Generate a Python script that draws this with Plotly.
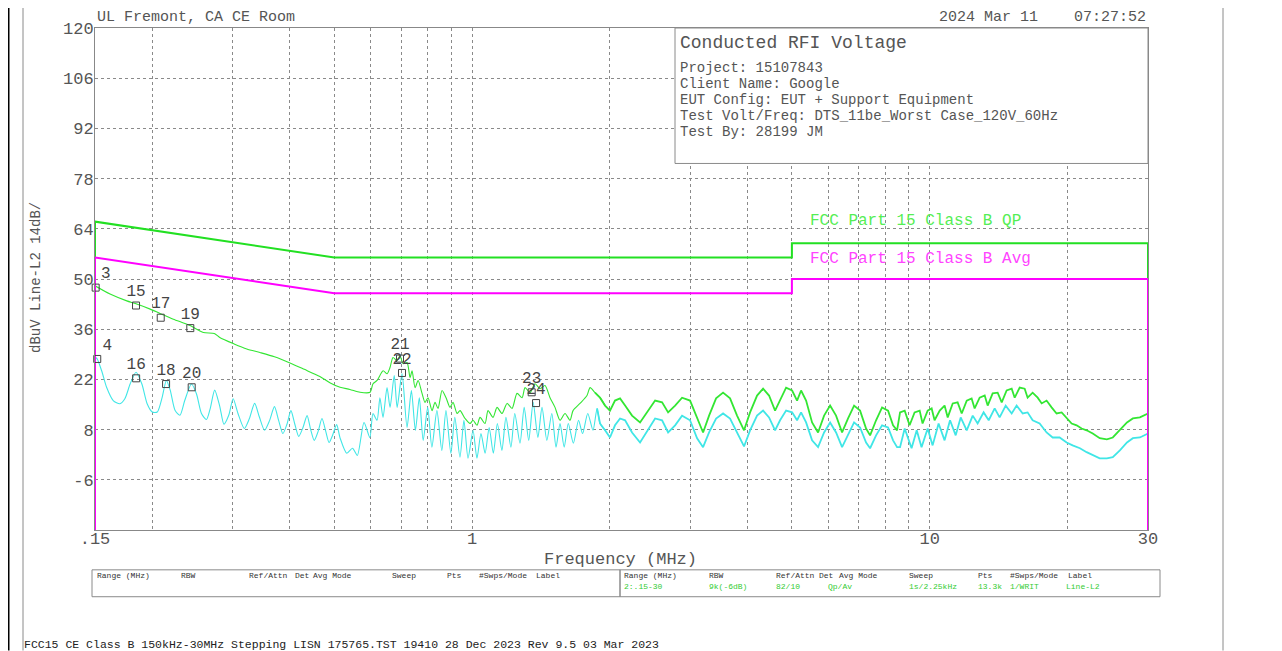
import plotly.graph_objects as go

# ---------------- data ----------------
qp_limit_freq = [0.15, 0.15, 0.5, 5.0, 5.0, 30.0, 30.0]
qp_limit_level = [-20, 66, 56, 56, 60, 60, -20]
avg_limit_freq = [0.15, 0.15, 0.5, 5.0, 5.0, 30.0, 30.0]
avg_limit_level = [-20, 56, 46, 46, 50, 50, -20]

# peak / QP scan trace (green), MHz and dBuV
green_freq = [0.150, 0.1618, 0.176, 0.1844, 0.198, 0.208, 0.2225, 0.242, 0.2587, 0.2734, 0.281, 0.302, 0.322,
              0.344, 0.370, 0.400, 0.430, 0.465, 0.490,
              0.5147, 0.541, 0.5692, 0.5985, 0.6076, 0.6201, 0.6392, 0.6522, 0.6618, 0.6719, 0.6855, 0.6960,
              0.7066, 0.7210, 0.7321, 0.7395, 0.7508, 0.7623, 0.7776, 0.7894, 0.8013, 0.8176, 0.8301, 0.8427,
              0.8599, 0.8774, 0.8953, 0.9089, 0.9273, 0.9414, 0.9654, 0.990, 1.005, 1.0255, 1.041, 1.0676,
              1.0838, 1.1115, 1.1340, 1.1629, 1.1926, 1.2231, 1.2541, 1.2862, 1.3057, 1.3388, 1.3729, 1.4079,
              1.4437, 1.4805, 1.5182, 1.557, 1.5966, 1.6372, 1.6622, 1.7217, 1.7833, 1.8114, 1.8567, 1.904,
              1.953, 2.002, 2.053, 2.106, 2.160, 2.237, 2.329, 2.424, 2.512, 2.602, 2.682, 2.778, 2.877, 2.995,
              3.103, 3.198, 3.296, 3.414, 3.536, 3.663, 3.794, 3.930, 4.051, 4.196, 4.325, 4.457, 4.594, 4.711,
              4.856, 5.005, 5.132, 5.236, 5.370, 5.534, 5.704, 5.879, 6.060, 6.244, 6.436, 6.633, 6.837, 7.046,
              7.262, 7.410, 7.637, 7.870, 8.112, 8.318, 8.487, 8.616,
              8.82, 9.04, 9.27, 9.51, 9.65, 9.90, 10.10, 10.25, 10.52, 10.78, 10.95, 11.23, 11.51, 11.75, 12.05,
              12.35, 12.54, 12.86, 13.19, 13.39, 13.73, 14.08, 14.37, 14.73, 15.11, 15.34, 15.73, 16.13, 16.37,
              16.79, 17.22, 17.57, 18.01, 18.47, 18.94, 19.43, 19.92, 20.43, 20.95, 21.48, 22.03, 22.72, 23.53,
              24.39, 25.13, 26.04, 26.99, 27.80, 28.80, 30.0]
green_level = [48.1, 45.8, 43.9, 43.1, 41.6, 40.4, 38.8, 37.0, 35.1, 34.8, 33.7, 31.9, 30.5,
               29.5, 28.3, 26.6, 24.8, 22.8, 21.0,
               19.8, 19.2, 18.4, 18.4, 20.8, 21.7, 24.4, 23.6, 25.3, 28.1, 27.2, 28.6,
               26.4, 26.7, 22.5, 24.4, 19.7, 21.7, 18.1, 15.6, 16.9, 13.3, 15.6, 13.9,
               18.9, 16.9, 14.2, 15.6, 12.5, 13.3, 11.1, 9.7, 10.6, 9.2, 11.4, 9.7,
               13.3, 11.4, 14.2, 12.5, 15.3, 13.9, 18.1, 16.9, 19.7, 18.3, 20.8, 19.4,
               20.3, 16.9, 14.2, 10.6, 12.5, 10.6, 13.3, 15.3, 17.5, 19.7, 18.3, 16.9,
               14.7, 13.3, 16.1, 16.7, 14.7, 11.9, 10.0, 13.3, 16.1, 15.6, 12.8, 14.7, 16.9, 16.1,
               11.1, 7.2, 11.9, 16.7, 18.3, 16.7, 11.9, 7.8, 12.8, 17.5, 19.4, 17.5, 13.3, 16.1,
               19.7, 18.9, 16.1, 18.9, 16.1, 10.0, 7.2, 11.9, 14.7, 11.9, 7.2, 11.1, 14.7, 13.3,
               8.3, 6.4, 10.6, 14.2, 13.3, 9.2, 7.8, 12.8,
               13.3, 9.2, 12.8, 13.3, 9.7, 13.3, 13.9, 10.6, 13.3, 14.7, 11.4, 15.3, 15.6, 12.5, 16.1,
               16.7, 13.9, 16.9, 17.5, 14.7, 18.1, 18.3, 15.6, 18.9, 19.4, 16.9, 19.7, 19.4, 16.9,
               18.3, 16.9, 15.3, 16.1, 14.2, 12.5, 12.8, 11.1, 9.7, 9.2, 8.3, 7.8, 6.9, 5.6,
               5.3, 5.8, 7.8, 10.0, 11.1, 11.4, 12.5]

# average scan trace (cyan), MHz and dBuV
cyan_freq = [0.1500, 0.1512, 0.1551, 0.1590, 0.1644, 0.1700, 0.1743, 0.1790, 0.1844, 0.1899, 0.1950, 0.2001,
             0.2052, 0.2103, 0.2148, 0.2190, 0.2245, 0.2300, 0.2356, 0.2437, 0.2499, 0.2563, 0.2628, 0.2680,
             0.2739, 0.2810, 0.2870, 0.2940, 0.3006, 0.3080, 0.3180, 0.3260, 0.3349, 0.3430, 0.3520, 0.3610,
             0.3700, 0.3780, 0.3860, 0.3940, 0.4020, 0.4100, 0.4180, 0.4270, 0.4360, 0.4440, 0.4520, 0.4610,
             0.4700, 0.4790, 0.4870, 0.4960, 0.5060,
             0.515, 0.5325, 0.548, 0.5615, 0.5807, 0.598, 0.6075, 0.620, 0.629, 0.639, 0.652, 0.662, 0.676,
             0.686, 0.703, 0.721, 0.737, 0.752, 0.767, 0.782, 0.800, 0.817, 0.838, 0.859, 0.877, 0.899, 0.917,
             0.941, 0.960, 0.980, 1.005, 1.025, 1.046, 1.068, 1.090, 1.113, 1.136, 1.162, 1.186, 1.216, 1.240,
             1.273, 1.300, 1.330, 1.360, 1.393, 1.422, 1.457, 1.494, 1.526, 1.557, 1.590, 1.623, 1.665, 1.709,
             1.744, 1.790, 1.838, 1.876, 1.904,
             1.953, 2.002, 2.053, 2.106, 2.160, 2.237, 2.329, 2.424, 2.512, 2.602, 2.682, 2.778, 2.877, 2.995,
             3.103, 3.198, 3.296, 3.414, 3.536, 3.663, 3.794, 3.930, 4.051, 4.196, 4.325, 4.457, 4.594, 4.711,
             4.856, 5.005, 5.132, 5.236, 5.370, 5.534, 5.704, 5.879, 6.060, 6.244, 6.436, 6.633, 6.837, 7.046,
             7.262, 7.410, 7.637, 7.870, 8.112, 8.318, 8.487, 8.616,
             8.82, 9.13, 9.37, 9.60, 9.90, 10.15, 10.46, 10.78, 11.08, 11.40, 11.69, 12.05, 12.42, 12.73,
             13.12, 13.46, 13.87, 14.22, 14.66, 15.11, 15.49, 15.97, 16.37, 16.79, 17.39, 18.01, 18.57, 19.23,
             19.92, 20.53, 21.30, 22.03, 22.72, 23.53, 24.39, 25.13, 26.04, 26.99, 27.80, 28.80, 30.0]
cyan_level = [27.0, 28.0, 24.4, 19.8, 16.1, 15.2, 16.6, 20.7, 24.0, 20.7, 15.2, 12.9,
              12.9, 17.0, 21.7, 19.0, 13.3, 12.0, 16.1, 20.7, 18.0, 12.5, 10.8, 14.0,
              19.0, 14.5, 9.5, 12.0, 16.6, 12.5, 8.3, 11.0, 15.3, 11.5, 7.8, 10.5,
              14.4, 10.5, 6.9, 9.5, 13.3, 9.5, 6.1, 8.5, 11.9, 8.0, 5.0, 7.5,
              11.1, 7.5, 4.4, 6.5, 9.4,
              5.6, 1.4, 2.8, 0.8, 10.0, 5.8, 12.5, 10.6, 16.9, 11.4, 19.7, 14.2, 23.1,
              14.2, 23.6, 8.6, 18.9, 7.8, 16.9, 5.0, 14.2, 3.1, 13.3, 2.2, 13.3, 1.4, 11.4,
              0.3, 10.6, 0.0, 7.8, 0.0, 6.9, 1.4, 8.6, 1.4, 9.7, 2.2, 11.4, 3.1, 12.5,
              4.2, 14.2, 5.0, 15.6, 5.8, 14.2, 5.0, 12.5, 3.1, 9.7, 3.1, 9.7, 4.2, 10.6,
              6.9, 12.5, 7.8, 13.9, 9.7,
              7.8, 5.8, 9.2, 11.1, 10.6, 7.2, 4.4, 7.8, 11.1, 10.6, 7.2, 9.2, 11.9, 10.6,
              5.6, 3.1, 7.2, 11.1, 12.5, 11.1, 7.2, 3.3, 7.8, 11.9, 13.3, 11.4, 7.8, 10.6,
              13.3, 12.8, 10.6, 12.8, 10.0, 5.0, 3.1, 7.2, 10.0, 7.2, 3.1, 6.4, 10.0, 8.6,
              4.4, 2.8, 6.4, 9.2, 8.6, 5.0, 3.1, 3.1,
              8.3, 2.8, 7.8, 3.1, 8.3, 3.6, 9.7, 5.0, 10.6, 6.4, 11.4, 7.8, 11.9, 9.7,
              12.8, 10.6, 13.9, 11.4, 14.7, 12.5, 14.7, 12.5, 12.8, 10.6, 9.7, 7.2, 5.8, 5.8,
              4.4, 3.6, 2.8, 1.7, 0.8, 0.0, 0.0, 0.3, 2.2, 4.4, 5.6, 5.8, 6.9]

marker_labels = ["3", "4", "15", "16", "17", "18", "19", "20", "21", "22", "23", "24"]
marker_freq = [0.1505, 0.1517, 0.1844, 0.1845, 0.2088, 0.2145, 0.2423, 0.244, 0.696, 0.703, 1.35, 1.38]
marker_level = [47.6, 27.7, 42.6, 22.3, 39.2, 20.7, 36.3, 19.8, 27.8, 23.8, 18.4, 15.4]

x_tick_vals = [0.15, 0.2, 0.3, 0.4, 0.5, 0.6, 0.7, 0.8, 0.9, 1, 2, 3, 4, 5, 6, 7, 8, 9, 10, 20, 30]
x_tick_text = [".15", "", "", "", "", "", "", "", "", "1", "", "", "", "", "", "", "", "", "10", "", "30"]
y_tick_vals = [-20, -6, 8, 22, 36, 50, 64, 78, 92, 106, 120]
y_tick_text = ["", "-6", "8", "22", "36", "50", "64", "78", "92", "106", "120"]

info_lines = ["Project: 15107843", "Client Name: Google", "EUT Config: EUT + Support Equipment",
              "Test Volt/Freq: DTS_11be_Worst Case_120V_60Hz", "Test By: 28199 JM"]
table_headers = ["Range (MHz)", "RBW", "Ref/Attn", "Det", "Avg Mode", "Sweep", "Pts", "#Swps/Mode", "Label"]
table_values = ["2:.15-30", "9k(-6dB)", "82/10", "Qp/Av", "", "1s/2.25kHz", "13.3k", "1/WRIT", "Line-L2"]

# ---------------- layout geometry (page pixels; the page body adds an 8 px offset) ----------------
OFF = 8
W, H = 1282 - OFF, 651 - OFF
PL, PR, PT, PB = 95, 1148, 26, 530          # plot area in page pixels
FONT = "Liberation Mono"
TXT = "#555555"
SPLIT = 1.95                                  # above this the dense scan is drawn thicker


def px(x):
    return (x - PL) / (PR - PL)


def py(y):
    return (PB - y) / (PB - PT)


def part(fs, ls, low):
    pairs = [(f, v) for f, v in zip(fs, ls) if (f <= SPLIT + 0.01 if low else f >= SPLIT - 0.1)]
    return [p[0] for p in pairs], [p[1] for p in pairs]


fig = go.Figure()
for fs, ls, col in [(green_freq, green_level, "#33e633"), (cyan_freq, cyan_level, "#40e6e6")]:
    lx, ly = part(fs, ls, True)
    hx, hy = part(fs, ls, False)
    fig.add_trace(go.Scatter(x=lx, y=ly, mode="lines", line=dict(color=col, width=1.1, shape="spline",
                                                                  smoothing=0.7), hoverinfo="skip"))
    fig.add_trace(go.Scatter(x=hx, y=hy, mode="lines", line=dict(color=col, width=1.8), hoverinfo="skip"))

fig.add_trace(go.Scatter(x=qp_limit_freq, y=qp_limit_level, mode="lines",
                         line=dict(color="#22e022", width=2), hoverinfo="skip"))
fig.add_trace(go.Scatter(x=avg_limit_freq, y=avg_limit_level, mode="lines",
                         line=dict(color="#ff00ff", width=2), hoverinfo="skip"))
label_pos = ["top right", "top right"] + ["top center"] * (len(marker_labels) - 2)
fig.add_trace(go.Scatter(x=marker_freq, y=marker_level, mode="markers+text",
                         text=marker_labels, textposition=label_pos,
                         textfont=dict(family=FONT, size=16, color="#444444"),
                         marker=dict(symbol="square-open", size=7, color="#444444", line=dict(width=1)),
                         cliponaxis=False, hoverinfo="skip"))

fig.update_layout(
    width=W, height=H, autosize=False,
    margin=dict(l=PL - OFF, r=W - (PR - OFF), t=PT - OFF, b=H - (PB - OFF)),
    paper_bgcolor="white", plot_bgcolor="white",
    showlegend=False,
    font=dict(family=FONT, color=TXT),
    xaxis=dict(type="log", range=[-0.823909, 1.477121], tickvals=x_tick_vals, ticktext=x_tick_text,
               showgrid=True, gridcolor="#8a8a8a", griddash="dot", gridwidth=1,
               showline=True, linecolor="#888888", linewidth=1, mirror=True,
               ticks="", tickfont=dict(family=FONT, size=17, color=TXT), zeroline=False,
               ticklabelstandoff=-7),
    yaxis=dict(range=[-20, 120], tickvals=y_tick_vals, ticktext=y_tick_text,
               showgrid=True, gridcolor="#8a8a8a", griddash="dot", gridwidth=1,
               showline=True, linecolor="#888888", linewidth=1, mirror=True,
               ticks="", tickfont=dict(family=FONT, size=17, color=TXT), zeroline=False,
               ticklabelstandoff=-3),
)

shapes = []
# outer page frame lines
shapes.append(dict(type="line", xref="paper", yref="paper", x0=px(8), x1=px(8), y0=py(0), y1=py(651),
                   line=dict(color="black", width=3)))
shapes.append(dict(type="line", xref="paper", yref="paper", x0=px(23), x1=px(23), y0=py(3), y1=py(651),
                   line=dict(color="#8a8a8a", width=1)))
shapes.append(dict(type="line", xref="paper", yref="paper", x0=px(1223), x1=px(1223), y0=py(3), y1=py(651),
                   line=dict(color="#8a8a8a", width=1)))
# info box
shapes.append(dict(type="rect", xref="paper", yref="paper", x0=px(675), x1=px(1148), y0=py(26), y1=py(162),
                   line=dict(color="#8a8a8a", width=1), fillcolor="white", layer="above"))
# table boxes
shapes.append(dict(type="rect", xref="paper", yref="paper", x0=px(92), x1=px(620), y0=py(570), y1=py(597),
                   line=dict(color="#8a8a8a", width=1)))
shapes.append(dict(type="rect", xref="paper", yref="paper", x0=px(620), x1=px(1160), y0=py(570), y1=py(597),
                   line=dict(color="#8a8a8a", width=1)))
fig.update_layout(shapes=shapes)

ann = []


def text(x, y, s, size, color=TXT, anchor="left", angle=0):
    ann.append(dict(xref="paper", yref="paper", x=px(x), y=py(y), text=s, showarrow=False,
                    xanchor=anchor, yanchor="middle", textangle=angle,
                    font=dict(family=FONT, size=size, color=color)))


text(95, 15, "UL Fremont, CA CE Room", 15)
text(1040, 15, "2024 Mar 11", 15, anchor="right")
text(1148, 15, "07:27:52", 15, anchor="right")
text(678, 41, "Conducted RFI Voltage", 18)
for i, s in enumerate(info_lines):
    text(678, 66 + 16 * i, s, 14)
text(808, 220, "FCC Part 15 Class B QP", 16, color="#55ee55")
text(808, 258, "FCC Part 15 Class B Avg", 16, color="#ff44ff")
text(36, 277, "dBuV Line-L2 14dB/", 14, anchor="center", angle=-90)
text(620, 560, "Frequency (MHz)", 17, anchor="center")

left_x = [95, 179, 247, 293, 311, 390, 445, 477, 534]
right_x = [622, 707, 774, 817, 837, 907, 976, 1008, 1066]
for hx, s in zip(left_x, table_headers):
    text(hx, 576, s, 8, color="#333333")
for hx, s in zip(right_x, table_headers):
    text(hx, 576, s, 8, color="#333333")
value_x = [622, 707, 774, 826, 0, 907, 976, 1008, 1064]
for hx, s in zip(value_x, table_values):
    if s:
        text(hx, 587, s, 8, color="#33cc33")
text(22, 645, "FCC15 CE Class B 150kHz-30MHz Stepping LISN 175765.TST 19410 28 Dec 2023 Rev 9.5 03 Mar 2023",
     11.5, color="#222222")

fig.update_layout(annotations=ann)
fig.write_html("out.html")
